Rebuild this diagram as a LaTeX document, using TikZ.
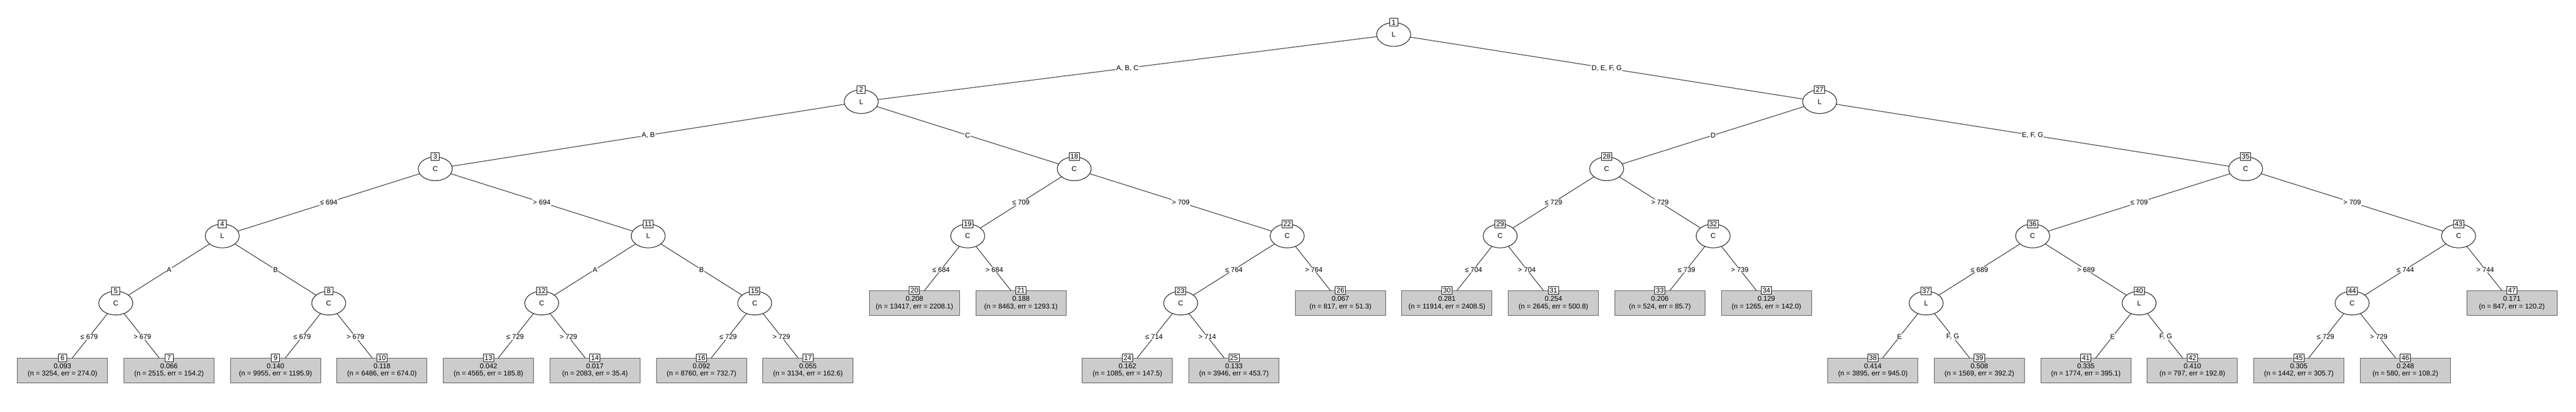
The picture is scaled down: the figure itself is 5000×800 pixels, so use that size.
\documentclass[tikz,border=0pt]{standalone}
\usepackage{fontspec}
\setmainfont{Liberation Sans}
\usetikzlibrary{shapes.geometric}
\pgfdeclarelayer{bg}
\pgfsetlayers{bg,main}
\definecolor{leafgray}{HTML}{CCCCCC}
\newcommand\mkinner[4]{%
  \node[inode] (n#1) at ({18+#2*206.7},#3) {#4};
  \node[idbox] (id#1) at (n#1.north) {#1};}
\newcommand\mkleaf[5]{%
  \node[leaf] (n#1) at ({18+(#2+0.5)*206.7},#3) {#4\\(#5)};
  \node[idbox] (id#1) at (n#1.north) {#1};}
\newcommand\mkedge[3]{%
  \draw[treeedge] (n#1.center) -- (n#2.center) node[elab, midway] {#3};}
\begin{document}
\begin{tikzpicture}[x=1pt,y=-1pt,
  every node/.style={font=\fontsize{13.5}{14.5}\selectfont},
  inode/.style={ellipse, draw, line width=1pt, fill=white, minimum width=66pt, minimum height=46pt, inner sep=0pt},
  leaf/.style={rectangle, draw=black!70, line width=1pt, fill=leafgray, minimum width=175pt, minimum height=48pt, inner sep=0pt, align=center},
  idbox/.style={rectangle, draw, line width=1pt, fill=white, minimum width=16pt, minimum height=15pt, inner xsep=2.5pt, inner ysep=0pt},
  elab/.style={fill=white, inner sep=1pt},
  treeedge/.style={line width=1pt, draw=black!90}
]
\useasboundingbox (0,0) rectangle (5000,800);
% levels: 67, 197.4, 327.8, 458.2, 588.6, 719
% inner nodes
\mkinner{1}{13}{67}{L}
\mkinner{2}{8}{197.4}{L}
\mkinner{27}{17}{197.4}{L}
\mkinner{3}{4}{327.8}{C}
\mkinner{18}{10}{327.8}{C}
\mkinner{28}{15}{327.8}{C}
\mkinner{35}{21}{327.8}{C}
\mkinner{4}{2}{458.2}{L}
\mkinner{11}{6}{458.2}{L}
\mkinner{19}{9}{458.2}{C}
\mkinner{22}{12}{458.2}{C}
\mkinner{29}{14}{458.2}{C}
\mkinner{32}{16}{458.2}{C}
\mkinner{36}{19}{458.2}{C}
\mkinner{43}{23}{458.2}{C}
\mkinner{5}{1}{588.6}{C}
\mkinner{8}{3}{588.6}{C}
\mkinner{12}{5}{588.6}{C}
\mkinner{15}{7}{588.6}{C}
\mkinner{23}{11}{588.6}{C}
\mkinner{37}{18}{588.6}{L}
\mkinner{40}{20}{588.6}{L}
\mkinner{44}{22}{588.6}{C}
% leaves
\mkleaf{6}{0}{719}{0.093}{n = 3254, err = 274.0}
\mkleaf{7}{1}{719}{0.066}{n = 2515, err = 154.2}
\mkleaf{9}{2}{719}{0.140}{n = 9955, err = 1195.9}
\mkleaf{10}{3}{719}{0.118}{n = 6486, err = 674.0}
\mkleaf{13}{4}{719}{0.042}{n = 4565, err = 185.8}
\mkleaf{14}{5}{719}{0.017}{n = 2083, err = 35.4}
\mkleaf{16}{6}{719}{0.092}{n = 8760, err = 732.7}
\mkleaf{17}{7}{719}{0.055}{n = 3134, err = 162.6}
\mkleaf{20}{8}{588.6}{0.208}{n = 13417, err = 2208.1}
\mkleaf{21}{9}{588.6}{0.188}{n = 8463, err = 1293.1}
\mkleaf{24}{10}{719}{0.162}{n = 1085, err = 147.5}
\mkleaf{25}{11}{719}{0.133}{n = 3946, err = 453.7}
\mkleaf{26}{12}{588.6}{0.067}{n = 817, err = 51.3}
\mkleaf{30}{13}{588.6}{0.281}{n = 11914, err = 2408.5}
\mkleaf{31}{14}{588.6}{0.254}{n = 2645, err = 500.8}
\mkleaf{33}{15}{588.6}{0.206}{n = 524, err = 85.7}
\mkleaf{34}{16}{588.6}{0.129}{n = 1265, err = 142.0}
\mkleaf{38}{17}{719}{0.414}{n = 3895, err = 945.0}
\mkleaf{39}{18}{719}{0.508}{n = 1569, err = 392.2}
\mkleaf{41}{19}{719}{0.335}{n = 1774, err = 395.1}
\mkleaf{42}{20}{719}{0.410}{n = 797, err = 192.8}
\mkleaf{45}{21}{719}{0.305}{n = 1442, err = 305.7}
\mkleaf{46}{22}{719}{0.248}{n = 580, err = 108.2}
\mkleaf{47}{23}{588.6}{0.171}{n = 847, err = 120.2}
% background and edges
\begin{pgfonlayer}{bg}
\fill[white] (0,0) rectangle (5000,800);
\mkedge{1}{2}{A, B, C}
\mkedge{1}{27}{D, E, F, G}
\mkedge{2}{3}{A, B}
\mkedge{2}{18}{C}
\mkedge{3}{4}{≤ 694}
\mkedge{3}{11}{> 694}
\mkedge{4}{5}{A}
\mkedge{4}{8}{B}
\mkedge{5}{6}{≤ 679}
\mkedge{5}{7}{> 679}
\mkedge{8}{9}{≤ 679}
\mkedge{8}{10}{> 679}
\mkedge{11}{12}{A}
\mkedge{11}{15}{B}
\mkedge{12}{13}{≤ 729}
\mkedge{12}{14}{> 729}
\mkedge{15}{16}{≤ 729}
\mkedge{15}{17}{> 729}
\mkedge{18}{19}{≤ 709}
\mkedge{18}{22}{> 709}
\mkedge{19}{20}{≤ 684}
\mkedge{19}{21}{> 684}
\mkedge{22}{23}{≤ 764}
\mkedge{22}{26}{> 764}
\mkedge{23}{24}{≤ 714}
\mkedge{23}{25}{> 714}
\mkedge{27}{28}{D}
\mkedge{27}{35}{E, F, G}
\mkedge{28}{29}{≤ 729}
\mkedge{28}{32}{> 729}
\mkedge{29}{30}{≤ 704}
\mkedge{29}{31}{> 704}
\mkedge{32}{33}{≤ 739}
\mkedge{32}{34}{> 739}
\mkedge{35}{36}{≤ 709}
\mkedge{35}{43}{> 709}
\mkedge{36}{37}{≤ 689}
\mkedge{36}{40}{> 689}
\mkedge{37}{38}{E}
\mkedge{37}{39}{F, G}
\mkedge{40}{41}{E}
\mkedge{40}{42}{F, G}
\mkedge{43}{44}{≤ 744}
\mkedge{43}{47}{> 744}
\mkedge{44}{45}{≤ 729}
\mkedge{44}{46}{> 729}
\end{pgfonlayer}
\end{tikzpicture}
\end{document}
